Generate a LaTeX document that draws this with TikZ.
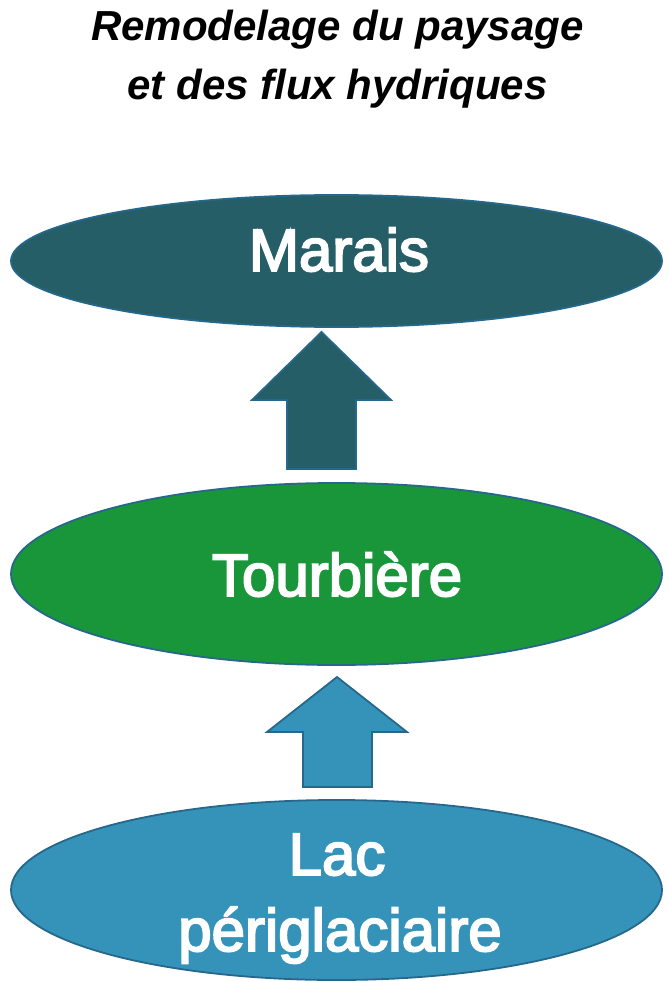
\documentclass[tikz,border=0pt]{standalone}
\usepackage{fontspec}
\setmainfont{Liberation Sans}
\newfontfamily\lblfont[BoldFont={Liberation Sans}, BoldFeatures={FakeBold=3.2}]{Liberation Sans}
\usetikzlibrary{shapes.geometric}
\definecolor{marais}{RGB}{37,94,102}
\definecolor{tourb}{RGB}{26,150,58}
\definecolor{lac}{RGB}{53,147,186}
\definecolor{edge}{RGB}{38,104,140}
\tikzset{
  blob/.style={ellipse, draw=edge, line width=1.8pt, minimum width=651pt, inner sep=0pt},
  lbl/.style={text=white, font=\lblfont\bfseries\fontsize{60}{72}\selectfont, anchor=base, inner sep=0pt},
  ttl/.style={anchor=base, font=\bfseries\itshape\fontsize{42}{56}\selectfont, inner sep=0pt},
  blockarrow/.style={draw=edge, line width=1.8pt, line join=miter},
}
\begin{document}
\begin{tikzpicture}[x=1pt,y=-1pt]
\useasboundingbox (0,0) rectangle (667,981);
% title
\node[ttl] (title) at (337.5,41) {Remodelage du paysage};
\node[ttl] (title2) at (337.5,100) {et des flux hydriques};
% ellipses
\node[blob, fill=marais, minimum height=132pt] (m) at (336.5,261) {};
\node[blob, fill=tourb, minimum height=182pt] (t) at (336.5,574) {};
\node[blob, fill=lac, minimum height=180pt] (l) at (336.5,890) {};
% labels
\node[lbl] (mt) at (339,271) {Marais};
\node[lbl] (tt) at (337,596) {Tourbière};
\node[lbl] (lt1) at (337,875) {Lac};
\node[lbl] (lt2) at (340,951) {périglaciaire};
% arrows
\coordinate (a1) at (321.5,332);
\filldraw[blockarrow, fill=marais] (a1) -- ++(69.5,68) -- ++(-35,0) -- ++(0,69) -- ++(-69,0) -- ++(0,-69) -- ++(-35,0) -- cycle;
\coordinate (a2) at (337,677);
\filldraw[blockarrow, fill=lac] (a2) -- ++(70,55) -- ++(-35,0) -- ++(0,55) -- ++(-69,0) -- ++(0,-55) -- ++(-36,0) -- cycle;
\end{tikzpicture}
\end{document}
